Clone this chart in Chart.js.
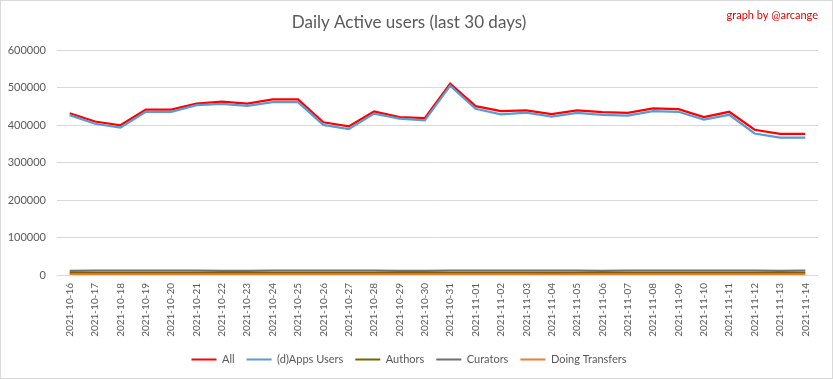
<!DOCTYPE html>
<html>
<head>
<meta charset="utf-8">
<script src="https://cdn.jsdelivr.net/npm/chart.js@4/dist/chart.umd.min.js"></script>
<style>
  html, body { margin: 0; padding: 0; background: #fff; }
  #wrap { width: 833px; height: 379px; position: relative; }
</style>
</head>
<body>
<div id="wrap"><canvas id="c" width="833" height="379"></canvas></div>
<script>
const categories = [
  "2021-10-16","2021-10-17","2021-10-18","2021-10-19","2021-10-20","2021-10-21",
  "2021-10-22","2021-10-23","2021-10-24","2021-10-25","2021-10-26","2021-10-27",
  "2021-10-28","2021-10-29","2021-10-30","2021-10-31","2021-11-01","2021-11-02",
  "2021-11-03","2021-11-04","2021-11-05","2021-11-06","2021-11-07","2021-11-08",
  "2021-11-09","2021-11-10","2021-11-11","2021-11-12","2021-11-13","2021-11-14"
];
const allUsers = [
  432000, 410000, 400000, 442000, 442000, 458000, 463000, 458000, 469000, 469000,
  408000, 397000, 437000, 422000, 419000, 511000, 451000, 438000, 440000, 430000,
  440000, 435000, 433000, 445000, 443000, 422000, 436000, 388000, 377000, 377000
];
const appsUsers = [
  427000, 404000, 394000, 436000, 436000, 454000, 457000, 452000, 462000, 462000,
  401000, 390000, 431000, 418000, 413000, 506000, 444000, 429000, 434000, 423000,
  433000, 428000, 426000, 438000, 436000, 415000, 428000, 378000, 367000, 367000
];
const authors = [
  5200, 5000, 5100, 5300, 5200, 5100, 5000, 5100, 5200, 5300,
  5100, 5000, 5200, 5100, 5000, 5300, 5200, 5100, 5100, 5000,
  5200, 5100, 5000, 5200, 5100, 5000, 5100, 5000, 4900, 5000
];
const curators = [
  11000, 11800, 11800, 11800, 11800, 11800, 10800, 10900, 11800, 11800,
  11800, 11800, 11800, 10800, 10800, 11800, 11800, 11800, 11800, 11800,
  11800, 10900, 11800, 11800, 11800, 11800, 11800, 11800, 10800, 11800
];
const transfers = [
  1800, 1800, 1800, 1800, 1800, 1800, 1800, 1800, 1800, 1800,
  1800, 1800, 1800, 1800, 1800, 1800, 1800, 1800, 1800, 1200,
  1800, 1800, 1800, 1800, 1800, 1800, 1800, 1800, 1800, 1800
];
const yTicks = { min: 0, max: 600000, step: 100000 };

const FONT = "Lato, 'Open Sans', sans-serif";
const GREY = "#595959";

const frame = {
  id: 'frame',
  beforeDraw(chart) {
    const ctx = chart.ctx;
    ctx.save();
    ctx.fillStyle = '#ffffff';
    ctx.fillRect(0, 0, chart.width, chart.height);
    ctx.restore();
  },
  afterDraw(chart) {
    const ctx = chart.ctx;
    ctx.save();
    ctx.strokeStyle = '#d9d9d9';
    ctx.lineWidth = 1;
    ctx.strokeRect(0.5, 0.5, chart.width - 1, chart.height - 1);
    ctx.fillStyle = '#e00000';
    ctx.font = "11px " + FONT;
    ctx.textAlign = 'right';
    ctx.textBaseline = 'middle';
    ctx.fillText('graph by @arcange', 818, 15);
    ctx.restore();
  }
};

function ds(label, data, color, order) {
  return {
    label, data, order,
    borderColor: color, backgroundColor: color,
    borderWidth: 2.25, pointRadius: 0, pointHoverRadius: 0,
    tension: 0, fill: false
  };
}

new Chart(document.getElementById('c'), {
  type: 'line',
  data: {
    labels: categories,
    datasets: [
      ds('All', allUsers, '#ff0000', 5),
      ds('(d)Apps Users', appsUsers, '#5b9bd5', 4),
      ds('Authors', authors, '#7f6000', 3),
      ds('Curators', curators, '#6f6f6f', 2),
      ds('Doing Transfers', transfers, '#ed7d31', 1)
    ]
  },
  options: {
    responsive: false,
    animation: false,
    events: [],
    layout: { padding: { left: 0, right: 15, top: 0, bottom: 4 } },
    plugins: {
      title: {
        display: true,
        text: 'Daily Active users (last 30 days)',
        color: GREY,
        font: { family: FONT, size: 17, weight: 'normal' },
        padding: { top: 12, bottom: 18 }
      },
      legend: {
        position: 'bottom',
        labels: {
          color: GREY,
          font: { family: FONT, size: 11 },
          boxWidth: 25,
          boxHeight: 2,
          padding: 12,
          sort: (a, b) => a.datasetIndex - b.datasetIndex,
          generateLabels(chart) {
            const items = Chart.defaults.plugins.legend.labels.generateLabels(chart);
            return items.map(it => Object.assign(it, { lineWidth: 0, fillStyle: it.strokeStyle }));
          }
        }
      },
      tooltip: { enabled: false }
    },
    scales: {
      x: {
        offset: true,
        grid: { display: false, drawTicks: false },
        border: { display: false },
        ticks: {
          autoSkip: false, maxRotation: 90, minRotation: 90,
          color: GREY, font: { family: FONT, size: 10 }, padding: 8
        },
        afterFit(s) { s.height = 67; }
      },
      y: {
        min: yTicks.min, max: yTicks.max,
        grid: { color: '#d9d9d9', drawTicks: false, lineWidth: 1 },
        border: { display: false },
        ticks: {
          stepSize: yTicks.step, color: GREY,
          font: { family: FONT, size: 11 }, padding: 11,
          callback: v => String(v)
        },
        afterFit(s) { s.width = 57; }
      }
    }
  },
  plugins: [frame]
});
</script>
</body>
</html>
